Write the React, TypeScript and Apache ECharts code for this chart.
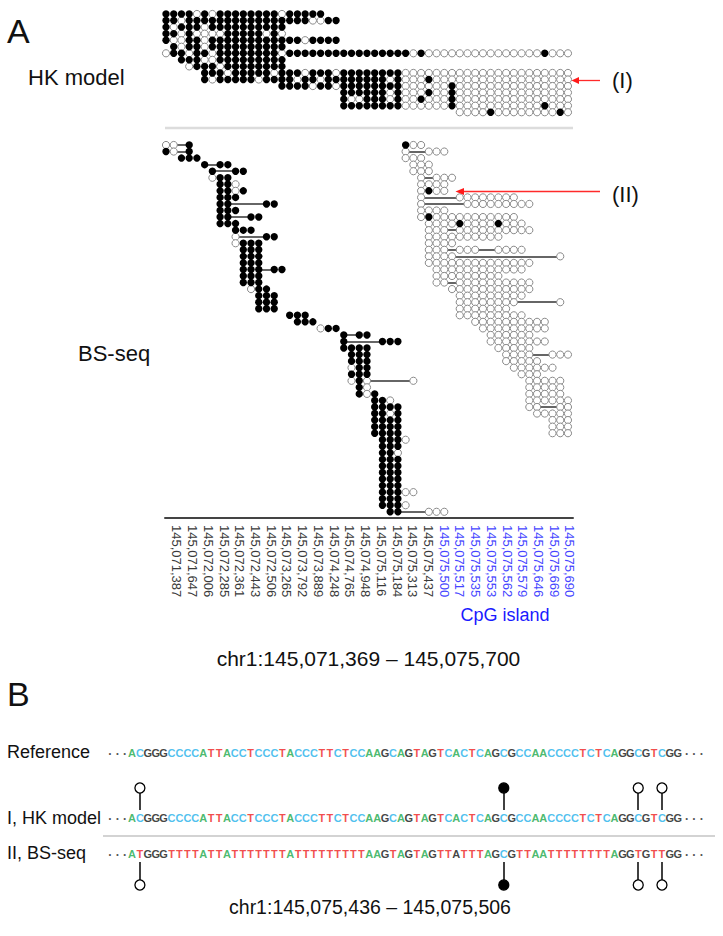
import React, { useEffect, useRef } from "react";
import * as echarts from "echarts";

// ---------------- DATA ----------------
// Reads: [row, first CpG column, states]  "1" = methylated, "0" = unmethylated, "-" = CpG not covered
const hkReads: [number, number, string][] = [
  [0, 0, "1111" + "0" + "1" + "0" + "11111111" + "0" + "11111"],
  [1, 0, "110" + "1111111111111111" + "0011"],
  [2, 0, "1011101111111111"],
  [3, 0, "1101000011111010"],
  [4, 0, "100110111111111" + "11101111"],
  [5, 1, "101101111111111"],
  [6, 0, "0110110111111110" + "1111111111111111" + "01" + "000000000000000" + "1000"],
  [7, 2, "11100111111111"],
  [8, 3, "0111011111111"],
  [9, 5, "11101111101" + "110111011111111" + "0000000000000000000000"],
  [10, 5, "10111110111" + "101101111111101" + "0001" + "000000000000000000"],
  [11, 15, "1111011011111111" + "000000" + "1" + "000000000000000"],
  [12, 23, "11111101" + "0001001" + "000000000000000"],
  [13, 23, "10011101" + "0010001" + "000000000000000"],
  [14, 23, "11111111" + "0000001" + "00000000000" + "1000"],
  [15, 38, "0000" + "1" + "00000000" + "1" + "0"],
];

const bsLeftReads: [number, number, string][] = [
  [0, 0, "00-1"], [1, 0, "10-1"], [2, 2, "111"], [3, 5, "1-11"], [4, 6, "1--11"],
  [5, 6, "011"], [6, 7, "110"], [7, 7, "1101"], [8, 7, "111"], [9, 7, "11----11"],
  [10, 7, "111"], [11, 7, "11--11"], [12, 7, "111"], [13, 9, "111"], [14, 9, "0---11"],
  [15, 9, "0111"], [16, 10, "111"], [17, 10, "111"], [18, 10, "111"], [19, 10, "111-11"],
  [20, 10, "111"], [21, 10, "111"], [22, 11, "011"], [23, 12, "111"], [24, 12, "111"],
  [25, 12, "111"], [26, 16, "111"], [27, 17, "111"], [28, 20, "011"], [29, 23, "1-11"],
  [30, 23, "1----111"], [31, 23, "1111"], [32, 24, "111"], [33, 24, "111"], [34, 24, "011"],
  [35, 24, "111"], [36, 24, "010-----0"], [37, 25, "10"], [38, 25, "101"], [39, 27, "110"],
  [40, 27, "1111"], [41, 27, "1101"], [42, 27, "1111"], [43, 27, "1111"], [44, 27, "1111"],
  [45, 28, "1110"], [46, 28, "111"], [47, 28, "110"], [48, 28, "111"], [49, 28, "111"],
  [50, 28, "111"], [51, 28, "111"], [52, 28, "111"], [53, 28, "11100"], [54, 28, "111"],
  [55, 28, "1110"], [56, 29, "11---000"],
];

const bsRightReads: [number, number, string][] = [
  [0, 31, "100"], [1, 31, "0--000"], [2, 31, "000"], [3, 32, "000"], [4, 32, "000"],
  [5, 33, "0-000"], [6, 33, "0000"], [7, 33, "0100"], [8, 33, "0----00000000"],
  [9, 33, "0-----000000000"], [10, 33, "0000"], [11, 33, "01" + "00000000000"],
  [12, 34, "0000100001000"], [13, 34, "000-0000000000"], [14, 34, "0000000000"],
  [15, 34, "0000"], [16, 34, "000-000--0000"], [17, 34, "0000" + "-------------" + "0"],
  [18, 34, "00000000000000"], [19, 35, "000000000000"], [20, 35, "000000000"],
  [21, 35, "00-0000000000"], [22, 37, "00000000000"], [23, 38, "000000000"],
  [24, 38, "00000000" + "-----" + "0"], [25, 38, "0000000"], [26, 38, "000000000"],
  [27, 40, "0000000000"], [28, 41, "000000000"], [29, 42, "000000"], [30, 42, "00000000"],
  [31, 43, "00000"], [32, 44, "0000--000"], [33, 44, "00000"], [34, 45, "000000"],
  [35, 46, "000"], [36, 47, "00000"], [37, 47, "00000"], [38, 47, "00000"],
  [39, 47, "000000"], [40, 47, "00--00"], [41, 48, "00000"], [42, 50, "000"],
  [43, 50, "000"], [44, 50, "000"],
];

const tickLabels = [
  "145,071,387", "145,071,647", "145,072,006", "145,072,285", "145,072,361", "145,072,443",
  "145,072,506", "145,073,265", "145,073,792", "145,073,889", "145,074,248", "145,074,765",
  "145,074,948", "145,075,116", "145,075,184", "145,075,313", "145,075,437", "145,075,500",
  "145,075,517", "145,075,535", "145,075,553", "145,075,562", "145,075,579", "145,075,646",
  "145,075,669", "145,075,690",
];
const cpgIslandStart = 17; // first tick label inside the CpG island

const refSeq = "ACGGGCCCCATTACCTCCCTACCCTTCTCCAAGCAGTAGTCACTCAGCGCCAACCCCTCTCAGGCGTCGG";
const hkSeq = "ACGGGCCCCATTACCTCCCTACCCTTCTCCAAGCAGTAGTCACTCAGCGCCAACCCCTCTCAGGCGTCGG";
const bsSeq = "ATGGGTTTTATTATTTTTTTATTTTTTTTTAAGTAGTAGTTATTTAGCGTTAATTTTTTTTAGGTGTTGG";
const bsBlackIdx = [41];
const cpgSites = [1, 47, 64, 67];
const hkMeth = [0, 1, 0, 0];
const bsMeth = [0, 1, 0, 0];

// ---------------- LAYOUT ----------------
const FONT = '"Liberation Sans", Arial, Helvetica, sans-serif';
const ROW_H = 6.55;
const HK_Y0 = 14;
const BS_ROW_OFFSET = 20;
const COL_X0 = 166;
const COL_W = 7.73;
const AXIS_Y = 518;
const SEQ_X0 = 132;
const SEQ_W = 7.91;
const B_TOP = 740;

const baseColor: Record<string, string> = { A: "#1aa84a", C: "#1fb0ea", G: "#111111", T: "#ee1d1d" };

function buildMarks(reads: [number, number, string][], rowOffset: number) {
  const filled: number[][] = [];
  const open: number[][] = [];
  const gaps: any[] = [];
  reads.forEach(([row, start, s]) => {
    const y = row + rowOffset;
    let gapStart = -1;
    for (let j = 0; j < s.length; j++) {
      const ch = s[j];
      const x = start + j;
      if (ch === "-") {
        if (gapStart < 0) gapStart = x - 1;
        continue;
      }
      if (gapStart >= 0) {
        gaps.push({ coords: [[gapStart, y], [x, y]] });
        gapStart = -1;
      }
      if (ch === "1") filled.push([x, y]);
      else if (ch === "0") open.push([x, y]);
    }
  });
  return { filled, open, gaps };
}

function seqData(seq: string, y: number, blackIdx: number[] = []) {
  return seq.split("").map((b, i) => ({
    value: [i, y],
    name: b,
    label: { color: blackIdx.includes(i) ? "#111111" : baseColor[b] },
  }));
}

function txt(text: string, x: number, y: number, size: number, opts: any = {}) {
  const align = opts.align || "left";
  return {
    type: "text",
    silent: true,
    style: {
      text,
      x,
      y,
      fill: opts.color || "#111",
      font: `${opts.weight || "normal"} ${size}px ${FONT}`,
      align,
      textAlign: align,
      verticalAlign: "middle",
      textVerticalAlign: "middle",
    },
  };
}

export default function App() {
  const ref = useRef<HTMLDivElement>(null);

  useEffect(() => {
    if (!ref.current) return;
    const chart = echarts.init(ref.current, null, { renderer: "svg" });

    const hk = buildMarks(hkReads, 0);
    const bl = buildMarks(bsLeftReads, BS_ROW_OFFSET);
    const br = buildMarks(bsRightReads, BS_ROW_OFFSET);
    const filled = [...hk.filled, ...bl.filled, ...br.filled];
    const open = [...hk.open, ...bl.open, ...br.open];
    const gaps = [...hk.gaps, ...bl.gaps, ...br.gaps];

    const gridTop = HK_Y0 - ROW_H;

    // panel B y values (pixels below B_TOP)
    const yRef = 753 - B_TOP;
    const yHk = 818 - B_TOP;
    const yBs = 854 - B_TOP;
    const hkStem = [793 - B_TOP, 810 - B_TOP];
    const hkHead = 788 - B_TOP;
    const bsStem = [862 - B_TOP, 880 - B_TOP];
    const bsHead = 885 - B_TOP;

    const stems: any[] = [];
    const heads: any[] = [];
    cpgSites.forEach((s, k) => {
      stems.push({ coords: [[s, hkStem[0]], [s, hkStem[1]]] });
      stems.push({ coords: [[s, bsStem[0]], [s, bsStem[1]]] });
      heads.push({
        value: [s, hkHead],
        itemStyle: { color: hkMeth[k] ? "#000" : "#fff" },
      });
      heads.push({
        value: [s, bsHead],
        itemStyle: { color: bsMeth[k] ? "#000" : "#fff" },
      });
    });

    const option: any = {
      animation: false,
      backgroundColor: "#ffffff",
      grid: [
        { left: 165, width: 408, top: gridTop, height: AXIS_Y - gridTop },
        { left: 169.1, width: 408.7, top: 480, height: AXIS_Y - 480 },
        { left: SEQ_X0 - 4 * SEQ_W, width: 77 * SEQ_W, top: B_TOP, height: 160 },
      ],
      xAxis: [
        {
          gridIndex: 0,
          type: "value",
          min: (165 - COL_X0) / COL_W,
          max: (573 - COL_X0) / COL_W,
          position: "bottom",
          axisLine: { show: true, onZero: false, lineStyle: { color: "#444", width: 2 } },
          axisTick: { show: false },
          axisLabel: { show: false },
          splitLine: { show: false },
        },
        {
          gridIndex: 1,
          type: "category",
          position: "bottom",
          data: tickLabels.map((t, i) => ({
            value: t,
            textStyle: { color: i >= cpgIslandStart ? "#4646ff" : "#3a3a3a" },
          })),
          axisLine: { show: false, onZero: false },
          axisTick: { show: false },
          axisLabel: { rotate: -90, margin: 7, fontSize: 13, fontFamily: FONT, interval: 0 },
          splitLine: { show: false },
        },
        { gridIndex: 2, type: "value", min: -4, max: 73, show: false },
      ],
      yAxis: [
        {
          gridIndex: 0,
          type: "value",
          inverse: true,
          min: -1,
          max: (AXIS_Y - HK_Y0) / ROW_H,
          show: false,
        },
        { gridIndex: 1, type: "value", min: 0, max: 1, show: false },
        { gridIndex: 2, type: "value", inverse: true, min: 0, max: 160, show: false },
      ],
      series: [
        {
          type: "lines",
          coordinateSystem: "cartesian2d",
          xAxisIndex: 0,
          yAxisIndex: 0,
          data: gaps,
          lineStyle: { color: "#333", width: 1.5, opacity: 1 },
          silent: true,
          z: 1,
        },
        {
          type: "scatter",
          xAxisIndex: 0,
          yAxisIndex: 0,
          data: open,
          symbol: "circle",
          symbolSize: 7.2,
          itemStyle: { color: "#ffffff", borderColor: "#8a8a8a", borderWidth: 1, opacity: 1 },
          silent: true,
          z: 2,
        },
        {
          type: "scatter",
          xAxisIndex: 0,
          yAxisIndex: 0,
          data: filled,
          symbol: "circle",
          symbolSize: 7.4,
          itemStyle: { color: "#000000", opacity: 1 },
          silent: true,
          z: 3,
        },
        { type: "scatter", xAxisIndex: 1, yAxisIndex: 1, data: [], silent: true },
        {
          type: "scatter",
          xAxisIndex: 2,
          yAxisIndex: 2,
          data: [...seqData(refSeq, yRef), ...seqData(hkSeq, yHk), ...seqData(bsSeq, yBs, bsBlackIdx)],
          symbolSize: 1,
          itemStyle: { color: "rgba(0,0,0,0)" },
          label: {
            show: true,
            position: "inside",
            formatter: "{b}",
            fontSize: 11,
            fontWeight: "bold",
            fontFamily: FONT,
          },
          silent: true,
          z: 3,
        },
        {
          type: "lines",
          coordinateSystem: "cartesian2d",
          xAxisIndex: 2,
          yAxisIndex: 2,
          data: stems,
          lineStyle: { color: "#111", width: 1.6, opacity: 1 },
          silent: true,
          z: 2,
        },
        {
          type: "scatter",
          xAxisIndex: 2,
          yAxisIndex: 2,
          data: heads,
          symbol: "circle",
          symbolSize: 10,
          itemStyle: { borderColor: "#000", borderWidth: 1.3, opacity: 1 },
          silent: true,
          z: 4,
        },
      ],
      graphic: [
        txt("A", 7, 31, 34),
        txt("HK model", 28, 77.5, 22),
        txt("BS-seq", 78, 353, 22),
        txt("(I)", 612, 80, 22),
        txt("(II)", 612, 194, 22),
        txt("CpG island", 505, 615, 18, { align: "center", color: "#1a1aff" }),
        txt("chr1:145,071,369 – 145,075,700", 368.5, 658, 21, { align: "center" }),
        txt("B", 7, 694, 34),
        txt("Reference", 7, 752, 18),
        txt("I, HK model", 7, 818, 18),
        txt("II, BS-seq", 7, 852.5, 18),
        txt("· · ·", 127, 754, 12, { align: "right", color: "#555", weight: "bold" }),
        txt("· · ·", 685, 754, 12, { color: "#555", weight: "bold" }),
        txt("· · ·", 127, 819, 12, { align: "right", color: "#555", weight: "bold" }),
        txt("· · ·", 685, 819, 12, { color: "#555", weight: "bold" }),
        txt("· · ·", 127, 855, 12, { align: "right", color: "#555", weight: "bold" }),
        txt("· · ·", 685, 855, 12, { color: "#555", weight: "bold" }),
        txt("chr1:145,075,436 – 145,075,506", 370, 907, 19.5, { align: "center" }),
        {
          type: "line",
          silent: true,
          shape: { x1: 165, y1: 128, x2: 573, y2: 128 },
          style: { stroke: "#dcdcdc", lineWidth: 2.5 },
        },
        {
          type: "line",
          silent: true,
          shape: { x1: 103, y1: 836, x2: 715, y2: 836 },
          style: { stroke: "#c4c4c4", lineWidth: 1.5 },
        },
        {
          type: "line",
          silent: true,
          z: 10,
          shape: { x1: 600, y1: 80.5, x2: 577, y2: 80.5 },
          style: { stroke: "#ff2a2a", lineWidth: 1.3 },
        },
        {
          type: "polygon",
          silent: true,
          z: 10,
          shape: { points: [[571.5, 80.5], [579, 77], [579, 84]] },
          style: { fill: "#ff1a1a" },
        },
        {
          type: "line",
          silent: true,
          z: 10,
          shape: { x1: 600, y1: 191.5, x2: 462, y2: 191.5 },
          style: { stroke: "#ff2a2a", lineWidth: 1.3 },
        },
        {
          type: "polygon",
          silent: true,
          z: 10,
          shape: { points: [[455.5, 191.5], [464, 188], [464, 195]] },
          style: { fill: "#ff1a1a" },
        },
      ],
    };

    chart.setOption(option);
    return () => chart.dispose();
  }, []);

  return (
    <div
      ref={ref}
      style={{ position: "fixed", left: 0, top: 0, width: 723, height: 936, background: "#fff" }}
    />
  );
}
